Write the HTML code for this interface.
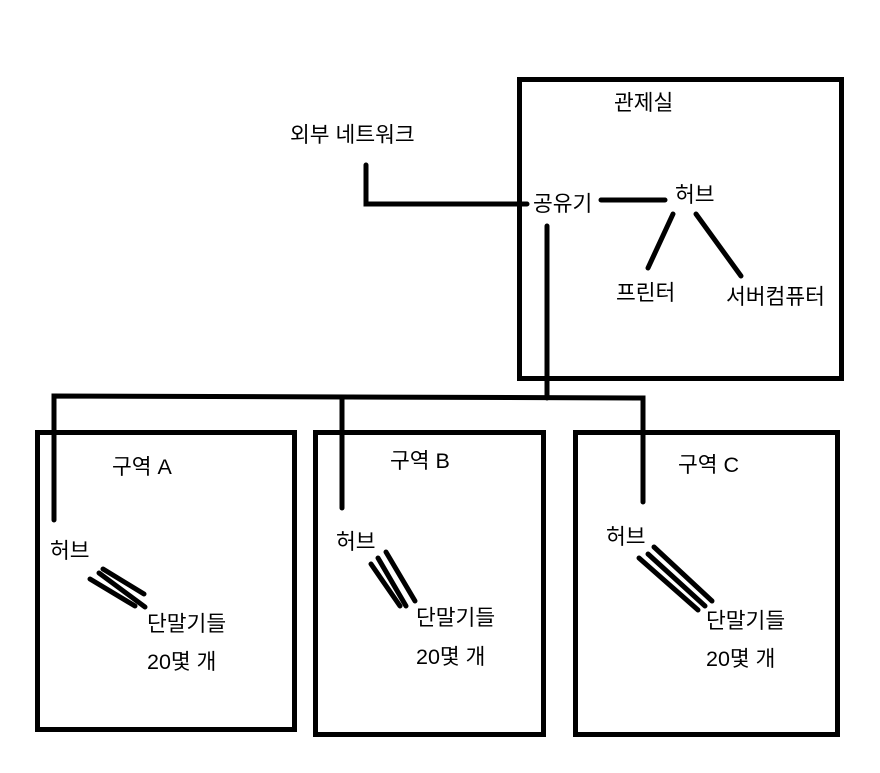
<!DOCTYPE html>
<html><head><meta charset="utf-8"><style>
html,body{margin:0;padding:0;background:#fff;}
svg{display:block;}
text{font-family:"Liberation Sans","Noto Sans CJK KR","NanumGothic",sans-serif;font-size:21.5px;fill:#000;}
</style></head><body>
<svg width="880" height="773" viewBox="0 0 880 773" xmlns="http://www.w3.org/2000/svg">
<g fill="none" stroke="#000" stroke-width="5" stroke-linecap="round">
<rect x="519.5" y="79.5" width="322" height="299"/>
<rect x="37.5" y="432.5" width="257" height="297"/>
<rect x="315.5" y="432.5" width="228" height="302"/>
<rect x="575.5" y="432.5" width="262" height="302"/>
<polyline points="366,165 366,204 527,204"/>
<line x1="601" y1="200" x2="665" y2="200"/>
<line x1="673" y1="214" x2="648" y2="268"/>
<line x1="696" y1="214" x2="741" y2="276"/>
<line x1="547" y1="226" x2="547" y2="398"/>
<polyline points="54,520 54,396 643,398 643,502"/>
<line x1="342" y1="398" x2="342" y2="508"/>
<line x1="90" y1="579" x2="135" y2="606"/>
<line x1="99" y1="573" x2="145" y2="607"/>
<line x1="103" y1="569" x2="144" y2="594"/>
<line x1="371" y1="564" x2="400" y2="606"/>
<line x1="378" y1="558" x2="406" y2="606"/>
<line x1="386" y1="552" x2="415" y2="601"/>
<line x1="639" y1="558" x2="698" y2="610"/>
<line x1="648" y1="554" x2="705" y2="606"/>
<line x1="654" y1="547" x2="712" y2="601"/>
</g>
<text x="290" y="142">외부 네트워크</text>
<text x="614" y="110">관제실</text>
<text x="533" y="211">공유기</text>
<text x="675" y="202">허브</text>
<text x="616" y="300">프린터</text>
<text x="726" y="304">서버컴퓨터</text>
<text x="112" y="474">구역 A</text>
<text x="390" y="468">구역 B</text>
<text x="678" y="472">구역 C</text>
<text x="50" y="558">허브</text>
<text x="336" y="549">허브</text>
<text x="606" y="544">허브</text>
<text x="147" y="631">단말기들</text>
<text x="416" y="625">단말기들</text>
<text x="706" y="628">단말기들</text>
<text x="147" y="669">20몇 개</text>
<text x="416" y="664">20몇 개</text>
<text x="706" y="666">20몇 개</text>
</svg>
</body></html>
